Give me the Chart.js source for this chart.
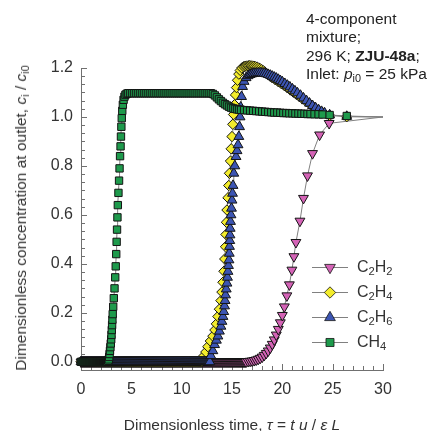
<!DOCTYPE html>
<html>
<head>
<meta charset="utf-8">
<script src="https://cdn.jsdelivr.net/npm/chart.js@4.4.0/dist/chart.umd.min.js"></script>
<style>
  body { margin: 0; background: #fff; font-family: "Liberation Sans", Arial, sans-serif; color: #333; }
  #wrap { position: relative; width: 430px; height: 431px; }
  .txt { position: absolute; white-space: nowrap; }
  sub { font-size: 70%; vertical-align: -0.3em; line-height: 0; }
  #note { left: 306px; top: 10px; font-size: 15.5px; line-height: 18.4px; color: #222; }
  #xtitle { left: 232px; top: 416px; font-size: 15.5px; transform: translateX(-50%); }
  #ytitle { left: 21px; top: 218px; font-size: 15.5px; transform: translate(-50%, -50%) rotate(-90deg); }
  .leg { left: 357px; font-size: 16px; line-height: 20px; }
</style>
</head>
<body>
<div id="wrap">
  <canvas id="chart" width="430" height="431"></canvas>
  <div class="txt" id="note">4-component<br>mixture;<br>296 K; <b>ZJU-48a</b>;<br>Inlet: <i>p</i><sub>i0</sub> = 25 kPa</div>
  <div class="txt" id="xtitle">Dimensionless time, <i>τ</i> = <i>t u</i> / <i>ε L</i></div>
  <div class="txt" id="ytitle">Dimensionless concentration at outlet, <i>c</i><sub>i</sub> / <i>c</i><sub>i0</sub></div>
  <div class="txt leg" style="top:257px">C<sub>2</sub>H<sub>2</sub></div>
  <div class="txt leg" style="top:282px">C<sub>2</sub>H<sub>4</sub></div>
  <div class="txt leg" style="top:307px">C<sub>2</sub>H<sub>6</sub></div>
  <div class="txt leg" style="top:332px">CH<sub>4</sub></div>
</div>
<script>
// tick labels
const xTicks = [0, 5, 10, 15, 20, 25, 30];
const yTicks = [0, 0.2, 0.4, 0.6, 0.8, 1.0, 1.2];

// all four curves sit at c = 0 on these early times (the dense black band at the bottom)
const baseTau = [0, 0.1, 0.2, 0.3, 0.4, 0.5, 0.6, 0.7, 0.8, 0.9, 1, 1.1, 1.2, 1.3, 1.4, 1.5, 1.6, 1.7, 1.8, 1.9,
  2, 2.1, 2.2, 2.3, 2.4, 2.5, 2.6, 2.7, 2.8, 2.9, 3, 3.1, 3.2, 3.3, 3.4, 3.5, 3.6, 3.7, 3.8, 3.9,
  4, 4.1, 4.2, 4.3, 4.4, 4.5, 4.6, 4.7, 4.8, 4.9, 5, 5.1, 5.2, 5.3, 5.4, 5.5, 5.6, 5.7, 5.8, 5.9,
  6, 6.1, 6.2, 6.3, 6.4, 6.5, 6.6, 6.7, 6.8, 6.9, 7, 7.1, 7.2, 7.3, 7.4, 7.5, 7.6, 7.7, 7.8, 7.9,
  8, 8.1, 8.2, 8.3, 8.4, 8.5, 8.6, 8.7, 8.8, 8.9, 9, 9.1, 9.2, 9.3, 9.4, 9.5, 9.6, 9.7, 9.8, 9.9,
  10, 10.1, 10.2, 10.3, 10.4, 10.5, 10.6, 10.7, 10.8, 10.9, 11, 11.1, 11.2, 11.3, 11.4, 11.5, 11.6, 11.7, 11.8, 11.9,
  12, 12.1, 12.2, 12.3, 12.4, 12.5, 12.6, 12.7, 12.8, 12.9, 13, 13.1, 13.2, 13.3, 13.4, 13.5, 13.6, 13.7, 13.8, 13.9,
  14, 14.1, 14.2, 14.3, 14.4, 14.5, 14.6, 14.7, 14.8, 14.9, 15, 15.1, 15.2, 15.3, 15.4, 15.5, 15.6, 15.7, 15.8, 15.9,
  16, 16.1, 16.2, 16.3, 16.4];

// C2H2
const tauC2H2 = [16.6, 16.8, 17.0, 17.2, 17.4, 17.6, 17.8, 18.0, 18.2, 18.4,
  18.6, 18.8, 19.0, 19.2, 19.4, 19.6, 19.8, 20.0, 20.2, 20.45,
  20.7, 20.95, 21.15, 21.35, 21.75, 22.1, 22.5, 23.0, 23.7, 24.65, 30];
const cC2H2 = [0.002, 0.003, 0.004, 0.006, 0.008, 0.011, 0.015, 0.02, 0.027, 0.035,
  0.045, 0.057, 0.072, 0.09, 0.11, 0.133, 0.16, 0.19, 0.225, 0.27,
  0.315, 0.375, 0.43, 0.488, 0.575, 0.668, 0.76, 0.851, 0.927, 0.974, 1.0];

// C2H4
const tauC2H4 = [12.1, 12.4, 12.6, 12.85, 13.1, 13.3, 13.45, 13.6, 13.75, 13.9,
  14.0, 14.1, 14.2, 14.28, 14.36, 14.4, 14.45, 14.5, 14.6, 14.68,
  14.75, 14.85, 14.92, 15.0, 15.08, 15.16, 15.25, 15.35, 15.45, 15.55,
  15.68, 15.82, 15.98, 16.15,
  16.3, 16.45, 16.6, 16.75, 16.9, 17.05, 17.2, 17.35, 17.5, 17.65, 17.8, 17.95, 18.1, 18.25, 18.4,
  18.6, 18.8, 19.0, 19.3, 19.6, 19.9, 20.2, 20.5, 20.8, 21.1, 21.4, 21.7, 22.0, 22.4, 22.8,
  23.2, 23.6, 24.0, 24.7, 26.4, 30];
const cC2H4 = [0.02, 0.04, 0.062, 0.085, 0.105, 0.13, 0.155, 0.185, 0.215, 0.25,
  0.285, 0.325, 0.37, 0.42, 0.47, 0.52, 0.57, 0.62, 0.67, 0.72,
  0.77, 0.82, 0.87, 0.92, 0.97, 1.01, 1.05, 1.09, 1.12, 1.15,
  1.175, 1.19, 1.2, 1.205,
  1.207, 1.208, 1.209, 1.209, 1.209, 1.208, 1.207, 1.205, 1.203, 1.2, 1.197, 1.193, 1.189, 1.184, 1.179,
  1.172, 1.166, 1.16, 1.152, 1.144, 1.136, 1.128, 1.119, 1.11, 1.101, 1.092, 1.083, 1.074, 1.062, 1.05,
  1.038, 1.027, 1.018, 1.006, 1.001, 1.0];

// C2H6
const tauC2H6 = [12.9, 13.1, 13.27, 13.45, 13.6, 13.75, 13.9, 14.0, 14.1, 14.18,
  14.26, 14.31, 14.36, 14.43, 14.5, 14.55, 14.6, 14.65, 14.7, 14.73,
  14.75, 14.78, 14.8, 14.82, 14.85, 14.9, 14.95, 15.0, 15.05, 15.1,
  15.18, 15.28, 15.4, 15.5, 15.6, 15.68, 15.75, 15.8, 15.87, 15.95,
  16.05, 16.2, 16.4, 16.6, 16.8,
  17.0, 17.2, 17.4, 17.6, 17.8, 18.0, 18.2, 18.4, 18.6, 18.8,
  19.0, 19.2, 19.4, 19.6, 19.8, 20.0, 20.25, 20.5, 20.75, 21.0,
  21.25, 21.5, 21.8, 22.1, 22.4, 22.7, 23.0, 23.3, 23.6, 23.9,
  24.2, 24.7, 26.4, 30];
const cC2H6 = [0.025, 0.045, 0.07, 0.088, 0.105, 0.125, 0.145, 0.165, 0.185, 0.205,
  0.228, 0.25, 0.273, 0.297, 0.321, 0.345, 0.369, 0.393, 0.416, 0.443,
  0.471, 0.495, 0.518, 0.545, 0.573, 0.6, 0.627, 0.66, 0.688, 0.72,
  0.77, 0.8, 0.838, 0.862, 0.886, 0.92, 0.96, 1.0, 1.04, 1.083,
  1.124, 1.145, 1.16, 1.168, 1.173,
  1.176, 1.178, 1.179, 1.18, 1.18, 1.179, 1.178, 1.176, 1.173, 1.17,
  1.166, 1.162, 1.158, 1.153, 1.148, 1.143, 1.136, 1.129, 1.122, 1.114,
  1.106, 1.098, 1.088, 1.077, 1.066, 1.056, 1.046, 1.037, 1.029, 1.022,
  1.016, 1.008, 1.002, 1.0];

// CH4
const tauCH4 = [2.7, 2.76, 2.8, 2.84, 2.88, 2.92, 2.96, 3.0, 3.03, 3.06,
  3.09, 3.12, 3.15, 3.2, 3.26, 3.33, 3.4, 3.45, 3.5, 3.54,
  3.58, 3.62, 3.66, 3.72, 3.78, 3.83, 3.88, 3.93, 3.97, 4.01,
  4.05, 4.1, 4.16, 4.23, 4.32, 4.42, 4.55, 4.7,
  4.9, 5.1, 5.3, 5.5, 5.7, 5.9, 6.1, 6.3, 6.5, 6.7, 6.9, 7.1, 7.3, 7.5, 7.7, 7.9, 8.1, 8.3, 8.5, 8.7,
  8.9, 9.1, 9.3, 9.5, 9.7, 9.9, 10.1, 10.3, 10.5, 10.7, 10.9, 11.1, 11.3, 11.5, 11.7, 11.9, 12.1, 12.3,
  12.5, 12.7, 12.9,
  13.1, 13.3, 13.5, 13.7, 13.9, 14.1, 14.3, 14.5, 14.7, 14.9, 15.1, 15.3, 15.5, 15.7, 15.9, 16.2, 16.5,
  16.8, 17.1, 17.4, 17.7, 18.0, 18.3, 18.6, 18.9, 19.2, 19.5, 19.8, 20.1, 20.4, 20.7, 21.0, 21.3, 21.6,
  21.9, 22.2, 22.5, 22.8, 23.2, 23.6, 24.0, 24.7, 26.4, 30];
const cCH4 = [0.004, 0.01, 0.02, 0.032, 0.045, 0.06, 0.075, 0.092, 0.11, 0.13,
  0.15, 0.172, 0.195, 0.225, 0.26, 0.3, 0.345, 0.39, 0.44, 0.49,
  0.54, 0.59, 0.64, 0.69, 0.74, 0.79, 0.84, 0.88, 0.92, 0.96,
  0.995, 1.025, 1.05, 1.07, 1.083, 1.091, 1.095, 1.097,
  1.097, 1.097, 1.097, 1.097, 1.097, 1.097, 1.097, 1.097, 1.097, 1.097, 1.097, 1.097, 1.097, 1.097, 1.097, 1.097, 1.097, 1.097, 1.097, 1.097,
  1.097, 1.097, 1.097, 1.097, 1.097, 1.097, 1.097, 1.097, 1.097, 1.097, 1.097, 1.097, 1.097, 1.097, 1.097, 1.097, 1.097, 1.097,
  1.097, 1.097, 1.097,
  1.094, 1.088, 1.08, 1.072, 1.065, 1.058, 1.052, 1.047, 1.042, 1.038, 1.035, 1.033, 1.031, 1.03, 1.029, 1.028, 1.027,
  1.026, 1.025, 1.024, 1.023, 1.022, 1.021, 1.02, 1.019, 1.018, 1.018, 1.017, 1.016, 1.016, 1.015, 1.015, 1.014, 1.014,
  1.013, 1.013, 1.012, 1.012, 1.011, 1.011, 1.01, 1.008, 1.004, 1.0];

const MARK_EDGE = '#141414';
const LINE = '#808080';

function points(tau, c) {
  const start = tau[0];
  const flat = baseTau.filter(t => t < start).map(t => ({ x: t, y: 0 }));
  return flat.concat(tau.map((t, i) => ({ x: t, y: c[i] })));
}

function ds(label, tau, c, fill, style, rot, radius, order) {
  return {
    label,
    data: points(tau, c),
    order,
    borderColor: LINE,
    borderWidth: 1,
    pointStyle: style,
    rotation: rot,
    pointRadius: ctx => (ctx.raw && ctx.raw.x >= 30 ? 0 : radius),
    pointBackgroundColor: fill,
    pointBorderColor: MARK_EDGE,
    pointBorderWidth: 1,
    tension: 0,
    clip: false,
  };
}

const series = [
  ds('C2H2', tauC2H2, cC2H2, '#d463b6', 'triangle', 180, 5.7, 4),
  ds('C2H4', tauC2H4, cC2H4, '#f3ec2c', 'rectRot', 0, 5.2, 3),
  ds('C2H6', tauC2H6, cC2H6, '#3c55b3', 'triangle', 0, 5.7, 2),
  ds('CH4', tauCH4, cCH4, '#1e9a4c', 'rect', 0, 5.2, 1),
];

// inward major/minor ticks on both axes
const innerTicks = {
  id: 'innerTicks',
  beforeDatasetsDraw(chart) {
    const { ctx, chartArea: a, scales: { x, y } } = chart;
    ctx.save();
    ctx.strokeStyle = '#707070';
    ctx.lineWidth = 1;
    ctx.beginPath();
    for (let v = 0; v <= 30; v++) {
      const px = Math.round(x.getPixelForValue(v)) + 0.5;
      ctx.moveTo(px, a.bottom);
      ctx.lineTo(px, a.bottom - (v % 5 === 0 ? 6 : 4));
    }
    for (let k = -1; k <= 36; k++) {
      const py = Math.round(y.getPixelForValue(k / 30)) + 0.5;
      ctx.moveTo(a.left, py);
      ctx.lineTo(a.left + (k % 6 === 0 ? 6 : 4), py);
    }
    ctx.stroke();
    ctx.restore();
  }
};

// legend symbols: line with marker through it
const legendMarks = {
  id: 'legendMarks',
  afterDraw(chart) {
    const ctx = chart.ctx;
    const rows = [267, 292, 317, 342];
    series.forEach((s, i) => {
      const yy = rows[i] + 0.5;
      ctx.save();
      ctx.strokeStyle = LINE;
      ctx.lineWidth = 1;
      ctx.beginPath();
      ctx.moveTo(312, yy);
      ctx.lineTo(348, yy);
      ctx.stroke();
      ctx.fillStyle = s.pointBackgroundColor;
      ctx.strokeStyle = MARK_EDGE;
      ctx.lineWidth = 0.8;
      Chart.helpers.drawPoint(ctx, {
        pointStyle: s.pointStyle,
        rotation: s.rotation,
        radius: s.pointStyle === 'triangle' ? 6.2 : 5.7,
        borderWidth: 0.8
      }, 330, yy);
      ctx.restore();
    });
  }
};

Chart.defaults.font.family = '"Liberation Sans", Arial, sans-serif';
Chart.defaults.font.size = 16;
Chart.defaults.color = '#333';

new Chart(document.getElementById('chart'), {
  type: 'line',
  data: { datasets: series },
  options: {
    responsive: false,
    animation: false,
    events: [],
    layout: { padding: { top: 68, right: 47, left: 0, bottom: 0 } },
    plugins: { legend: { display: false }, tooltip: { enabled: false } },
    scales: {
      x: {
        type: 'linear',
        min: 0,
        max: 30,
        grid: { display: false, drawTicks: false },
        border: { display: true, color: '#707070', width: 1 },
        afterBuildTicks: s => { s.ticks = xTicks.map(v => ({ value: v })); },
        afterFit: s => { s.height = 61; },
        ticks: { padding: 10, maxRotation: 0, callback: v => String(v) },
      },
      y: {
        min: -1 / 30,
        max: 1.2,
        grid: { display: false, drawTicks: false },
        border: { display: true, color: '#707070', width: 1 },
        afterBuildTicks: s => { s.ticks = yTicks.map(v => ({ value: v })); },
        afterFit: s => { s.width = 81; },
        ticks: { padding: 8, callback: v => Number(v).toFixed(1) },
      }
    }
  },
  plugins: [innerTicks, legendMarks]
});
</script>
</body>
</html>
